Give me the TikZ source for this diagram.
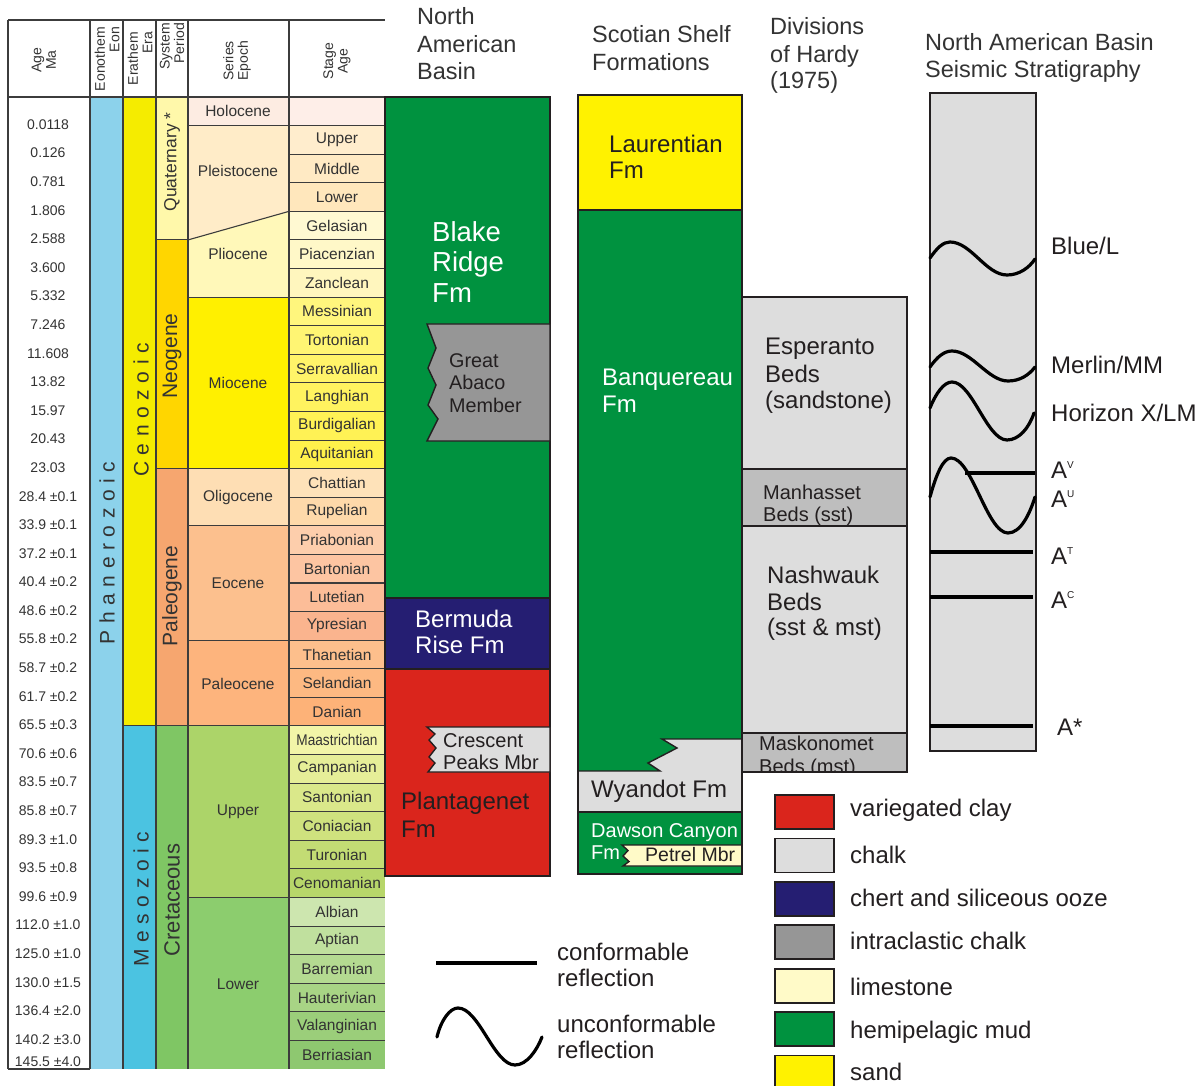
\documentclass[tikz,border=0pt]{standalone}
\usepackage{fontspec}
\setmainfont{Liberation Sans}
\definecolor{gridc}{RGB}{60,60,60}
\definecolor{edgec}{RGB}{35,31,32}
\definecolor{txtc}{RGB}{51,51,51}
\definecolor{txtd}{RGB}{35,31,32}
\definecolor{clayc}{RGB}{218,37,28}
\definecolor{chalkc}{RGB}{221,221,221}
\definecolor{chertc}{RGB}{37,30,114}
\definecolor{intrac}{RGB}{150,150,150}
\definecolor{limec}{RGB}{255,250,200}
\definecolor{mudc}{RGB}{0,146,63}
\definecolor{sandc}{RGB}{255,242,0}
\definecolor{bedc}{RGB}{190,190,190}
% table colours
\definecolor{eonc}{RGB}{140,210,235}
\definecolor{cenc}{RGB}{245,236,0}
\definecolor{mesc}{RGB}{75,195,225}
\definecolor{quac}{RGB}{255,248,170}
\definecolor{neoc}{RGB}{255,214,0}
\definecolor{palc}{RGB}{246,166,111}
\definecolor{crec}{RGB}{127,198,100}
\definecolor{holc}{RGB}{253,236,226}
\definecolor{plec}{RGB}{255,236,200}
\definecolor{plic}{RGB}{255,248,185}
\definecolor{mioc}{RGB}{255,240,0}
\definecolor{oligc}{RGB}{254,222,180}
\definecolor{eocc}{RGB}{252,192,142}
\definecolor{paleoc}{RGB}{253,180,125}
\definecolor{upkc}{RGB}{172,212,105}
\definecolor{lokc}{RGB}{140,205,110}
\definecolor{s0}{RGB}{254,238,232}
\definecolor{s1}{RGB}{255,237,205}
\definecolor{s2}{RGB}{255,234,196}
\definecolor{s3}{RGB}{255,231,188}
\definecolor{s4}{RGB}{255,249,210}
\definecolor{s5}{RGB}{255,248,200}
\definecolor{s6}{RGB}{255,246,190}
\definecolor{s7}{RGB}{255,246,125}
\definecolor{s8}{RGB}{255,245,115}
\definecolor{s9}{RGB}{255,244,105}
\definecolor{s10}{RGB}{255,243,95}
\definecolor{s11}{RGB}{255,242,85}
\definecolor{s12}{RGB}{255,241,75}
\definecolor{s13}{RGB}{254,226,185}
\definecolor{s14}{RGB}{254,217,170}
\definecolor{s15}{RGB}{253,206,172}
\definecolor{s16}{RGB}{253,197,162}
\definecolor{s17}{RGB}{252,189,152}
\definecolor{s18}{RGB}{250,180,142}
\definecolor{s19}{RGB}{253,191,140}
\definecolor{s20}{RGB}{253,185,130}
\definecolor{s21}{RGB}{253,178,120}
\definecolor{s22}{RGB}{242,245,168}
\definecolor{s23}{RGB}{230,238,152}
\definecolor{s24}{RGB}{218,232,138}
\definecolor{s25}{RGB}{207,226,126}
\definecolor{s26}{RGB}{195,220,116}
\definecolor{s27}{RGB}{183,214,106}
\definecolor{s28}{RGB}{205,230,175}
\definecolor{s29}{RGB}{192,224,158}
\definecolor{s30}{RGB}{180,218,145}
\definecolor{s31}{RGB}{168,212,133}
\definecolor{s32}{RGB}{155,206,122}
\definecolor{s33}{RGB}{142,200,112}
\newcommand\lsp{\kern6.6pt}
\newcommand\supl[1]{\raisebox{9.5pt}{\fontsize{10}{10}\selectfont #1}}
\begin{document}
\begin{tikzpicture}[x=1pt,y=-1pt,
  grid/.style={draw=gridc,line width=1.1pt},
  edge/.style={draw=edgec,line width=1.4pt},
  tbl/.style={font=\fontsize{15.5}{17}\selectfont,text=txtc,inner sep=0pt},
  agel/.style={font=\fontsize{14}{16}\selectfont,text=txtc,inner sep=0pt},
  hdrs/.style={font=\fontsize{14}{14.5}\selectfont,text=txtc,inner sep=0pt,rotate=90},
  rot/.style={rotate=90,text=txtc,inner sep=0pt},
  big/.style={font=\fontsize{24}{28}\selectfont,text=txtd,anchor=base west,inner sep=0pt},
  mid/.style={font=\fontsize{20}{24}\selectfont,text=txtd,anchor=base west,inner sep=0pt},
  colhead/.style={font=\fontsize{23.5}{27}\selectfont,text=txtc,anchor=base west,inner sep=0pt},
  wave/.style={draw=black,line width=3.2pt,line cap=round}]
\clip (0,0) rectangle (1203,1086);
\fill[white] (0,0) rectangle (1203,1086);

% ================= TIME TABLE =================
\fill[eonc] (90,97) rectangle (123,1069);
\fill[cenc] (123,97) rectangle (156,725.94);
\fill[mesc] (123,725.94) rectangle (156,1069);
\fill[quac] (156,97) rectangle (188,239.94);
\fill[neoc] (156,239.94) rectangle (188,468.64);
\fill[palc] (156,468.64) rectangle (188,725.94);
\fill[crec] (156,725.94) rectangle (188,1069);
\fill[holc] (188,97) rectangle (289,125.59);
\fill[plec] (188,125.59) -- (289,125.59) -- (289,211.35) -- (188,239.94) -- cycle;
\fill[plic] (188,239.94) -- (289,211.35) -- (289,297.12) -- (188,297.12) -- cycle;
\fill[mioc] (188,297.12) rectangle (289,468.64);
\fill[oligc] (188,468.64) rectangle (289,525.82);
\fill[eocc] (188,525.82) rectangle (289,640.17);
\fill[paleoc] (188,640.17) rectangle (289,725.94);
\fill[upkc] (188,725.94) rectangle (289,897.46);
\fill[lokc] (188,897.46) rectangle (289,1069);
\foreach \nm [count=\i from 0] in {{},Upper,Middle,Lower,Gelasian,Piacenzian,Zanclean,Messinian,Tortonian,Serravallian,Langhian,Burdigalian,Aquitanian,Chattian,Rupelian,Priabonian,Bartonian,Lutetian,Ypresian,Thanetian,Selandian,Danian,{\scalebox{0.88}[1]{Maastrichtian}},Campanian,Santonian,Coniacian,Turonian,Cenomanian,Albian,Aptian,Barremian,Hauterivian,Valanginian,Berriasian}{
  \pgfmathsetmacro\ya{97+\i*28.588}
  \pgfmathsetmacro\yb{\ya+28.588}
  \pgfmathsetmacro\ym{\ya+14.294}
  \fill[fill=s\i] (289,\ya) rectangle (385,\yb);
  \node[tbl] (st\i) at (337,\ym) {\nm};
}
\foreach \a [count=\i] in {0.0118,0.126,0.781,1.806,2.588,3.600,5.332,7.246,11.608,13.82,15.97,20.43,23.03,28.4 ±0.1,33.9 ±0.1,37.2 ±0.1,40.4 ±0.2,48.6 ±0.2,55.8 ±0.2,58.7 ±0.2,61.7 ±0.2,65.5 ±0.3,70.6 ±0.6,83.5 ±0.7,85.8 ±0.7,89.3 ±1.0,93.5 ±0.8,99.6 ±0.9,112.0 ±1.0,125.0 ±1.0,130.0 ±1.5,136.4 ±2.0,140.2 ±3.0,145.5 ±4.0}{
  \pgfmathsetmacro\y{min(96+\i*28.588,1062)}
  \node[agel] (age\i) at (48,\y) {\a};
}
\foreach \i in {1,...,33}{\draw[grid] (289,{97+\i*28.588}) -- (385,{97+\i*28.588});}
\foreach \y in {125.59,297.12,468.64,525.82,640.17,725.94,897.46}{\draw[grid] (188,\y) -- (289,\y);}
\draw[grid] (188,239.94) -- (289,211.35);
\foreach \y in {239.94,468.64,725.94}{\draw[grid] (156,\y) -- (188,\y);}
\draw[grid] (123,725.94) -- (156,725.94);
\foreach \x in {8,123,156,188,289}{\draw[grid] (\x,20) -- (\x,1069);}
\draw[grid,line width=1.8pt] (90,20) -- (90,1069);
\draw[grid,line width=1.8pt] (8,20) -- (385,20);
\draw[grid,line width=1.8pt] (8,97) -- (385,97);
\draw[grid] (8,1069) -- (90,1069);
\node[hdrs,align=center] (hage) at (44,60) {Age\\Ma};
\node[hdrs,align=right,anchor=east] (heon) at (107,27) {Eonothem\\Eon};
\node[hdrs,align=right,anchor=east] (hera) at (140,32) {Erathem\\Era};
\node[hdrs,align=right,anchor=east] (hper) at (172,23) {System\\Period};
\node[hdrs,align=center] (hepo) at (237,61) {Series\\Epoch};
\node[hdrs,align=center] (hsta) at (337,61) {Stage\\Age};
\node[rot,font=\fontsize{21}{24}\selectfont] (phan) at (107,553) {P\lsp h\lsp a\lsp n\lsp e\lsp r\lsp o\lsp z\lsp o\lsp i\lsp c};
\node[rot,font=\fontsize{21}{24}\selectfont] (ceno) at (141,410) {C\lsp e\lsp n\lsp o\lsp z\lsp o\lsp i\lsp c};
\node[rot,font=\fontsize{21}{24}\selectfont] (meso) at (141,899) {M\lsp e\lsp s\lsp o\lsp z\lsp o\lsp i\lsp c};
\node[rot,font=\fontsize{17.5}{20}\selectfont] (quat) at (172,162) {Quaternary *};
\node[rot,font=\fontsize{21}{24}\selectfont] (neog) at (172,356) {Neogene};
\node[rot,font=\fontsize{21}{24}\selectfont] (paleog) at (172,596) {Paleogene};
\node[rot,font=\fontsize{22}{24}\selectfont] (cret) at (172,900) {Cretaceous};
\node[tbl] (eholo) at (238,111) {Holocene};
\node[tbl] (epleis) at (238,171) {Pleistocene};
\node[tbl] (eplio) at (238,254) {Pliocene};
\node[tbl] (emio) at (238,383) {Miocene};
\node[tbl] (eolig) at (238,497) {Oligocene};
\node[tbl] (eeoc) at (238,583) {Eocene};
\node[tbl] (epal) at (238,684) {Paleocene};
\node[tbl] (eup) at (238,812) {Upper};
\node[tbl] (elow) at (238,984) {Lower};

% ================= NORTH AMERICAN BASIN =================
\filldraw[edge,fill=mudc] (385,97) rectangle (550,598);
\filldraw[edge,fill=chertc] (385,598) rectangle (550,669);
\filldraw[edge,fill=clayc] (385,669) rectangle (550,876);
\filldraw[edge,fill=intrac] (427,324) -- (550,324) -- (550,441) -- (427,441) -- (438,419) -- (428,405) -- (436,385) -- (428,368) -- (436,348) -- cycle;
\filldraw[edge,fill=chalkc] (427,727) -- (550,727) -- (550,772) -- (428,772) -- (435,763) -- (429,757) -- (436,748) -- (429,740) -- (435,734) -- cycle;
\node[font=\fontsize{27.5}{31}\selectfont,text=white,anchor=base west,inner sep=0pt] (br1) at (432,242) {Blake};
\node[font=\fontsize{27.5}{31}\selectfont,text=white,anchor=base west,inner sep=0pt] (br2) at (432,272) {Ridge};
\node[font=\fontsize{27.5}{31}\selectfont,text=white,anchor=base west,inner sep=0pt] (br3) at (432,303) {Fm};
\node[mid,font=\fontsize{19.8}{22}\selectfont] (ga1) at (449,367) {Great};
\node[mid,font=\fontsize{19.8}{22}\selectfont] (ga2) at (449,389) {Abaco};
\node[mid,font=\fontsize{19.8}{22}\selectfont] (ga3) at (449,412) {Member};
\node[big,text=white] (bm1) at (415,627) {Bermuda};
\node[big,text=white] (bm2) at (415,653) {Rise Fm};
\node[mid] (cp1) at (443,747) {Crescent};
\node[mid] (cp2) at (443,769) {Peaks Mbr};
\node[big] (pl1) at (401,809) {Plantagenet};
\node[big] (pl2) at (401,837) {Fm};

% ================= SCOTIAN SHELF =================
\filldraw[edge,fill=sandc] (578,95) rectangle (742,210);
\filldraw[edge,fill=mudc] (578,210) rectangle (742,812);
\filldraw[edge,fill=chalkc] (578,771) -- (660,771) -- (648,763) -- (677,748) -- (662,739) -- (742,739) -- (742,812) -- (578,812) -- cycle;
\filldraw[edge,fill=mudc] (578,812) rectangle (742,874);
\filldraw[edge,fill=limec] (622,845) -- (742,845) -- (742,866) -- (623,866) -- (629,861.5) -- (623,856) -- (628,850.5) -- cycle;
\draw[edge] (578,95) rectangle (742,874);
\node[big] (la1) at (609,153) {Laurentian};
\node[big] (la2) at (609,179) {Fm};
\node[big,text=white] (bq1) at (602,385) {Banquereau};
\node[big,text=white] (bq2) at (602,412) {Fm};
\node[big] (wy) at (591,797) {Wyandot Fm};
\node[mid,text=white] (dc1) at (591,837) {Dawson Canyon};
\node[mid,text=white] (dc2) at (591,859) {Fm};
\node[mid,font=\fontsize{19.5}{22}\selectfont] (pm) at (645,861) {Petrel Mbr};

% ================= HARDY =================
\fill[chalkc] (742,297) rectangle (907,469);
\fill[bedc] (742,469) rectangle (907,526);
\fill[chalkc] (742,526) rectangle (907,733);
\fill[bedc] (742,733) rectangle (907,772);
\node[big] (es1) at (765,355) {Esperanto};
\node[big] (es2) at (765,382) {Beds};
\node[big] (es3) at (765,408) {(sandstone)};
\node[mid] (mh1) at (763,499) {Manhasset};
\node[mid] (mh2) at (763,521) {Beds (sst)};
\node[big] (nw1) at (767,583) {Nashwauk};
\node[big] (nw2) at (767,610) {Beds};
\node[big] (nw3) at (767,635) {(sst \& mst)};
\node[mid] (mk1) at (759,750) {Maskonomet};
\begin{scope}
\clip (742,733) rectangle (907,772);
\node[mid] (mk2) at (759,773) {Beds (mst)};
\end{scope}
\draw[edge] (742,297) rectangle (907,469);
\draw[edge] (742,469) rectangle (907,526);
\draw[edge] (742,526) rectangle (907,733);
\draw[edge] (742,733) rectangle (907,772);

% ================= SEISMIC =================
\filldraw[edge,fill=chalkc] (930,93) rectangle (1036,751);
\draw[wave] (930,258) .. controls (937,248) and (943,242) .. (950,242) .. controls (971,242) and (986,275) .. (1007,275) .. controls (1019,275) and (1029,268) .. (1035,259);
\draw[wave] (930,367) .. controls (937,357) and (944,351) .. (952,351) .. controls (972,351) and (988,381) .. (1008,381) .. controls (1020,381) and (1029,375) .. (1035,367);
\draw[wave] (930,408) .. controls (936,393) and (944,382) .. (952,382) .. controls (972,382) and (987,440) .. (1007,440) .. controls (1019,440) and (1029,428) .. (1034,413);
\draw[wave] (930,497) .. controls (936,475) and (943,458) .. (951,458) .. controls (972,458) and (987,533) .. (1008,533) .. controls (1021,533) and (1030,513) .. (1035,497);
\draw[wave,line cap=butt] (965,473) -- (1035,473);
\draw[wave,line cap=butt] (930,552) -- (1033,552);
\draw[wave,line cap=butt] (930,597) -- (1033,597);
\draw[wave,line cap=butt] (930,726) -- (1033,726);
\node[big] (sbl) at (1051,255) {Blue/L};
\node[big] (smm) at (1051,373) {Merlin/MM};
\node[big] (shx) at (1051,421) {Horizon X/LM};
\node[big] (sav) at (1051,478) {A\supl{V}};
\node[big] (sau) at (1051,507) {A\supl{U}};
\node[big] (sat) at (1051,564) {A\supl{T}};
\node[big] (sac) at (1051,608) {A\supl{C}};
\node[big] (sas) at (1057,735) {A*};

\node[colhead] (hn1) at (417,25) {North};
\node[colhead] (hn2) at (417,53) {American};
\node[colhead] (hn3) at (417,80) {Basin};
\node[colhead] (hs1) at (592,43) {Scotian Shelf};
\node[colhead] (hs2) at (592,71) {Formations};
\node[colhead] (hh1) at (770,35) {Divisions};
\node[colhead] (hh2) at (770,63) {of Hardy};
\node[colhead] (hh3) at (770,89) {(1975)};
\node[colhead] (hq1) at (925,51) {North American Basin};
\node[colhead] (hq2) at (925,78) {Seismic Stratigraphy};

% ================= LEGEND =================
\draw[wave,line cap=butt] (436,963) -- (537,963);
\draw[wave] (437,1037) .. controls (441,1020) and (450,1008) .. (458,1008) .. controls (479,1008) and (494,1065) .. (515,1065) .. controls (527,1065) and (537,1050) .. (542,1037);
\node[big] (lc1) at (557,960) {conformable};
\node[big] (lc2) at (557,986) {reflection};
\node[big] (lu1) at (557,1032) {unconformable};
\node[big] (lu2) at (557,1058) {reflection};
\foreach \c/\t/\b [count=\k from 0] in {clayc/variegated clay/816,chalkc/chalk/863,chertc/chert and siliceous ooze/906,intrac/intraclastic chalk/949,limec/limestone/995,mudc/hemipelagic mud/1038,sandc/sand/1080}{
  \pgfmathsetmacro\yt{795+43.4*\k}
  \filldraw[edge,line width=1.8pt,fill=\c] (775,\yt) rectangle (834,\yt+34);
  \node[big] (leg\k) at (850,\b) {\t};
}
\end{tikzpicture}
\end{document}
